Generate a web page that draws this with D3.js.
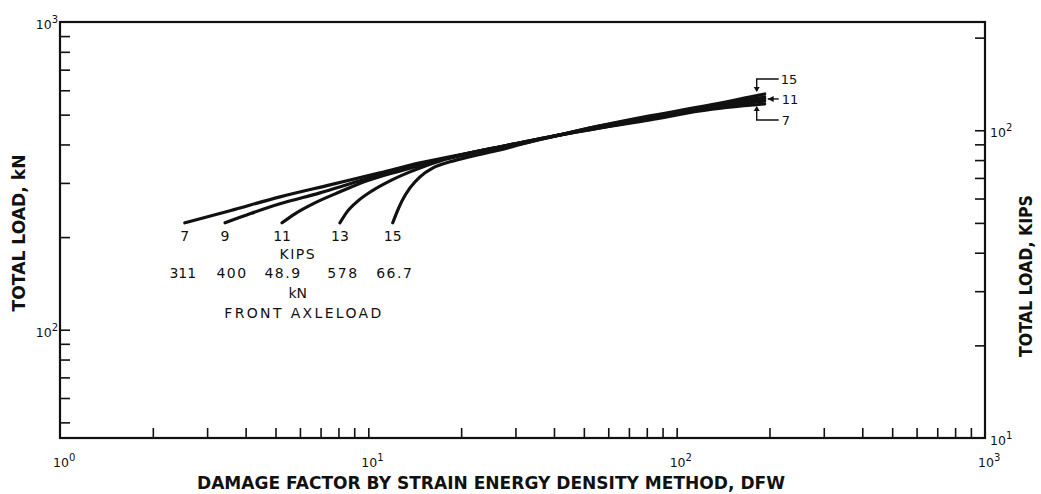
<!DOCTYPE html>
<html>
<head>
<meta charset="utf-8">
<script src="https://cdn.jsdelivr.net/npm/d3@7/dist/d3.min.js"></script>
<style>
  body { margin: 0; background: #fff; }
  text { font-family: "DejaVu Sans", sans-serif; fill: #111; }
</style>
</head>
<body>
<div id="chart"></div>
<script>
// Front axleloads, kips and the kN values printed under them
var axleKips = [7, 9, 11, 13, 15];
var axleKN = ["311", "400", "48.9", "578", "66.7"];

// Damage factor DFW (x) and total load in kN (y), one pair of arrays per curve
var dfw7  = [2.54, 3.56, 5.17, 7.51, 10.9, 14.7, 19.8, 26.7, 38.8, 56.4, 81.9, 119, 193];
var load7 = [222.6, 243.5, 270.3, 295.7, 323.4, 348.5, 370.1, 392.9, 423.2, 452.7, 480.6, 514.0, 541.7];

var dfw9  = [3.43, 4.13, 5.17, 6.97, 9.40, 12.7, 17.1, 23.0, 31.0, 41.8, 56.4, 81.9, 119, 193];
var load9 = [222.6, 238.1, 256.5, 278.5, 304.7, 330.7, 356.4, 381.3, 404.7, 429.6, 452.7, 484.3, 517.9, 554.0];

var dfw11  = [5.25, 5.78, 6.71, 8.09, 9.90, 12.7, 17.1, 23.0, 31.0, 41.8, 56.4, 81.9, 119, 193];
var load11 = [222.6, 238.1, 258.4, 280.6, 304.7, 328.3, 356.4, 381.3, 404.7, 429.6, 456.2, 487.9, 521.8, 562.3];

var dfw13  = [8.09, 8.53, 9.26, 10.28, 11.76, 13.65, 17.1, 21.4, 26.7, 33.4, 41.8, 56.4, 81.9, 119, 193];
var load13 = [222.6, 241.6, 262.3, 282.7, 304.7, 325.8, 353.8, 372.9, 389.9, 407.7, 429.6, 459.5, 491.6, 525.7, 570.8];

var dfw15  = [12.0, 12.39, 12.86, 13.65, 14.71, 16.21, 18.4, 21.85, 26.7, 33.4, 41.8, 56.4, 81.9, 119, 193];
var load15 = [222.6, 241.6, 262.3, 289.1, 314.0, 335.7, 351.2, 367.3, 384.1, 407.7, 429.6, 459.5, 495.3, 529.7, 583.7];

// Tick values
var xTicks = [2, 3, 4, 5, 6, 7, 8, 9, 10, 20, 30, 40, 50, 60, 70, 80, 90, 100, 200, 300, 400, 500, 600, 700, 800, 900];
var xDecades = [1, 10, 100, 1000];
var knTicks = [50, 60, 70, 80, 90, 100, 200, 300, 400, 500, 600, 700, 800, 900];
var knDecades = [100, 1000];
var kipsTicks = [20, 30, 40, 50, 60, 70, 80, 90, 100, 200];
var kipsDecades = [10, 100];

var svgWidth = 1041;
var svgHeight = 494;
var margin = { top: 22, right: 56, bottom: 56, left: 60 };
var width = svgWidth - margin.left - margin.right;
var height = svgHeight - margin.top - margin.bottom;

var svg = d3.select("#chart").append("svg")
  .attr("width", svgWidth)
  .attr("height", svgHeight);

var g = svg.append("g")
  .attr("transform", `translate(${margin.left}, ${margin.top})`);

var x = d3.scaleLog().domain([1, 1000]).range([0, width]);
var yKN = d3.scaleLog().domain([44.48, 1000]).range([height, 0]);
var yKips = d3.scaleLog().domain([10, 224.8]).range([height, 0]);

// inward ticks, no labels
function tickAxis(axis, values) {
  return axis.tickValues(values).tickSize(-10).tickFormat("");
}
var gx = g.append("g").attr("transform", `translate(0, ${height})`)
  .call(tickAxis(d3.axisBottom(x), xTicks));
var gl = g.append("g").call(tickAxis(d3.axisLeft(yKN), knTicks));
var gr = g.append("g").attr("transform", `translate(${width}, 0)`)
  .call(tickAxis(d3.axisRight(yKips), kipsTicks));
[gx, gl, gr].forEach(function(a) {
  a.select(".domain").remove();
  a.selectAll(".tick line").attr("stroke", "#111").attr("stroke-width", 1.6);
});

g.append("rect")
  .attr("width", width).attr("height", height)
  .attr("fill", "none").attr("stroke", "#111").attr("stroke-width", 2.2);

// power-of-ten labels
function powLabel(sel, exp) {
  sel.append("tspan").text("10");
  sel.append("tspan").attr("dy", -6).attr("font-size", 10).text(exp);
}
xDecades.forEach(function(d) {
  var t = g.append("text").attr("x", x(d) - 7).attr("y", height + 29).attr("font-size", 12.5);
  powLabel(t, Math.round(Math.log10(d)));
});
knDecades.forEach(function(d) {
  var t = g.append("text").attr("x", -2).attr("y", yKN(d) + 7)
    .attr("text-anchor", "end").attr("font-size", 12.5);
  powLabel(t, Math.round(Math.log10(d)));
});
kipsDecades.forEach(function(d) {
  var t = g.append("text").attr("x", width + 5).attr("y", yKips(d) + 7).attr("font-size", 12.5);
  powLabel(t, Math.round(Math.log10(d)));
});

// axis titles
svg.append("text")
  .attr("x", 491).attr("y", 489)
  .attr("text-anchor", "middle")
  .attr("font-size", 17).attr("font-weight", "bold")
  .attr("textLength", 588).attr("lengthAdjust", "spacingAndGlyphs")
  .text("DAMAGE FACTOR BY STRAIN ENERGY DENSITY METHOD, DFW");

svg.append("text")
  .attr("transform", "translate(25, 233) rotate(-90)")
  .attr("text-anchor", "middle")
  .attr("font-size", 17).attr("font-weight", "bold")
  .attr("textLength", 157).attr("lengthAdjust", "spacingAndGlyphs")
  .text("TOTAL LOAD, kN");

svg.append("text")
  .attr("transform", "translate(1032, 276) rotate(-90)")
  .attr("text-anchor", "middle")
  .attr("font-size", 17).attr("font-weight", "bold")
  .attr("textLength", 162).attr("lengthAdjust", "spacingAndGlyphs")
  .text("TOTAL LOAD, KIPS");

// curves
var curves = [
  { kips: 7, dfw: dfw7, load: load7 },
  { kips: 9, dfw: dfw9, load: load9 },
  { kips: 11, dfw: dfw11, load: load11 },
  { kips: 13, dfw: dfw13, load: load13 },
  { kips: 15, dfw: dfw15, load: load15 }
];
curves.forEach(function(c) {
  c.points = c.dfw.map(function(v, i) { return { dfw: v, load: c.load[i] }; });
});

var line = d3.line()
  .x(d => x(d.dfw))
  .y(d => yKN(d.load))
  .curve(d3.curveMonotoneX);

g.selectAll(".curve").data(curves).enter().append("path")
  .attr("class", "curve")
  .attr("d", d => line(d.points))
  .attr("fill", "none")
  .attr("stroke", "#111")
  .attr("stroke-width", 3.2)
  .attr("stroke-linecap", "round");

// front axleload labels under the start of each curve
var starts = curves.map(c => ({ x: x(c.points[0].dfw), y: yKN(c.points[0].load) }));
var knNudge = [-2, 7, 1, 3, 2];
g.selectAll(".kipsLabel").data(axleKips).enter().append("text")
  .attr("x", (d, i) => starts[i].x)
  .attr("y", (d, i) => starts[i].y + 18)
  .attr("text-anchor", "middle").attr("font-size", 14)
  .text(d => d);
g.selectAll(".knLabel").data(axleKN).enter().append("text")
  .attr("x", (d, i) => starts[i].x + knNudge[i])
  .attr("y", (d, i) => starts[i].y + 55)
  .attr("text-anchor", "middle").attr("font-size", 14)
  .attr("letter-spacing", (d, i) => i === 0 ? 0 : 1.5)
  .text(d => d);

var midX = (starts[0].x + starts[starts.length - 1].x) / 2;
var baseY = starts[0].y;
g.append("text").attr("x", midX + 9).attr("y", baseY + 36)
  .attr("text-anchor", "middle").attr("font-size", 14).attr("letter-spacing", 1.5)
  .text("KIPS");
g.append("text").attr("x", midX + 9).attr("y", baseY + 75)
  .attr("text-anchor", "middle").attr("font-size", 14)
  .text("kN");
g.append("text").attr("x", midX + 14).attr("y", baseY + 95)
  .attr("text-anchor", "middle").attr("font-size", 14)
  .attr("textLength", 157).attr("lengthAdjust", "spacing")
  .text("FRONT AXLELOAD");

// bracket labels at the right end of the bundle
var endOf = {};
curves.forEach(function(c) {
  var p = c.points[c.points.length - 1];
  endOf[c.kips] = { x: x(p.dfw), y: yKN(p.load) };
});
var bx = endOf[11].x - 8;
var ann = g.append("g").attr("stroke", "#111").attr("stroke-width", 1.4).attr("fill", "none");
var topY = endOf[15].y - 15, botY = endOf[7].y + 16;
ann.append("path").attr("d", `M${bx + 22},${topY} H${bx} V${endOf[15].y - 3}`);
ann.append("path").attr("d", `M${bx + 22},${botY} H${bx} V${endOf[7].y + 3}`);
ann.append("path").attr("d", `M${bx + 22},${endOf[11].y} H${endOf[11].x + 3}`);
var heads = g.append("g").attr("fill", "#111");
heads.append("path").attr("d", `M${bx - 3},${endOf[15].y - 7} L${bx + 3},${endOf[15].y - 7} L${bx},${endOf[15].y - 2} Z`);
heads.append("path").attr("d", `M${bx - 3},${endOf[7].y + 7} L${bx + 3},${endOf[7].y + 7} L${bx},${endOf[7].y + 2} Z`);
heads.append("path").attr("d", `M${endOf[11].x + 9},${endOf[11].y - 3} L${endOf[11].x + 9},${endOf[11].y + 3} L${endOf[11].x + 3},${endOf[11].y} Z`);

g.append("text").attr("x", bx + 24).attr("y", topY + 5).attr("font-size", 13).text("15");
g.append("text").attr("x", bx + 25).attr("y", endOf[11].y + 5).attr("font-size", 13).text("11");
g.append("text").attr("x", bx + 25).attr("y", botY + 5).attr("font-size", 13).text("7");
</script>
</body>
</html>
